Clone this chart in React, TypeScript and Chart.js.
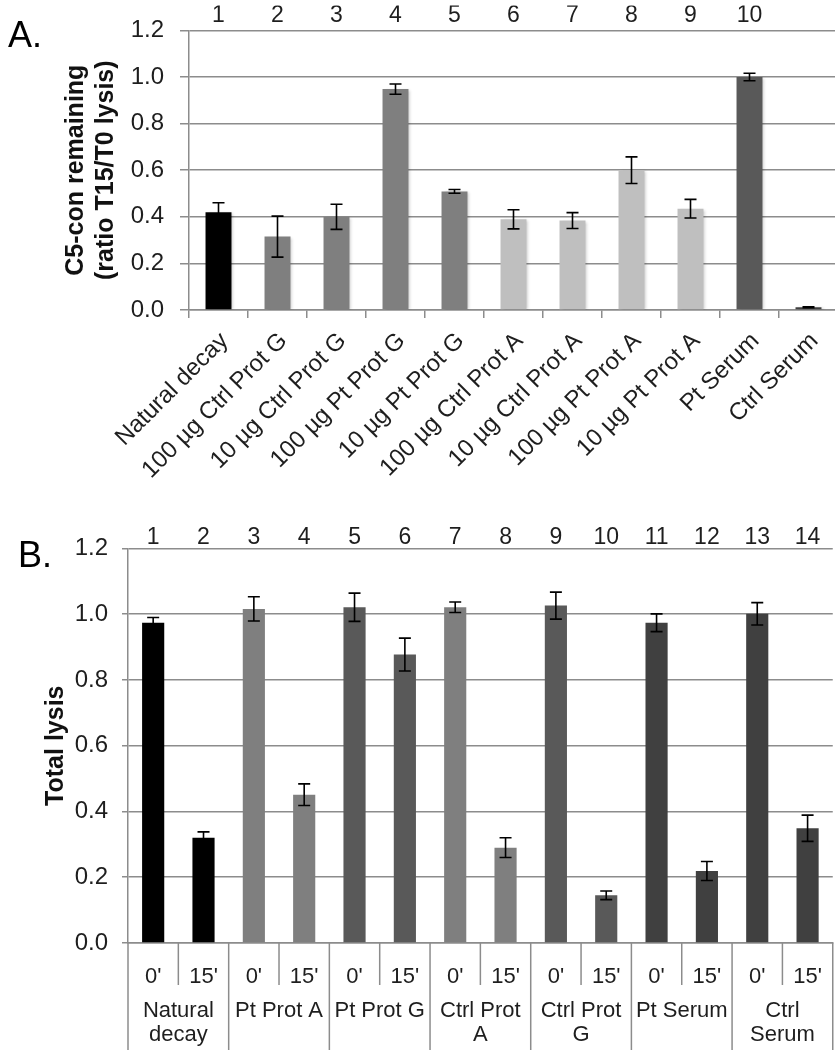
import React, { useEffect, useRef } from 'react';
import { Chart, registerables } from 'chart.js';

Chart.register(...registerables);

const FONT = '"Liberation Sans", Arial, Helvetica, sans-serif';
const GRID = '#8c8c8c';
const TEXT = '#1e1e1e';

// ---------- Panel A data ----------
const categoriesA = [
  'Natural decay',
  '100 µg Ctrl Prot G',
  '10 µg Ctrl Prot G',
  '100 µg Pt Prot G',
  '10 µg Pt Prot G',
  '100 µg Ctrl Prot A',
  '10 µg Ctrl Prot A',
  '100 µg Pt Prot A',
  '10 µg Pt Prot A',
  'Pt Serum',
  'Ctrl Serum',
];
const numbersA = ['1', '2', '3', '4', '5', '6', '7', '8', '9', '10', ''];
const valuesA = [0.42, 0.315, 0.4, 0.948, 0.509, 0.389, 0.384, 0.6, 0.435, 1.0, 0.012];
const errorsA = [0.04, 0.088, 0.054, 0.022, 0.008, 0.041, 0.034, 0.057, 0.04, 0.016, 0.002];
const colorsA = [
  '#000000', '#7f7f7f', '#7f7f7f', '#7f7f7f', '#7f7f7f',
  '#bfbfbf', '#bfbfbf', '#bfbfbf', '#bfbfbf', '#595959', '#404040',
];
const titleA = ['C5-con remaining', '(ratio T15/T0 lysis)'];

// ---------- Panel B data ----------
const categoriesB = ["0'", "15'", "0'", "15'", "0'", "15'", "0'", "15'", "0'", "15'", "0'", "15'", "0'", "15'"];
const numbersB = ['1', '2', '3', '4', '5', '6', '7', '8', '9', '10', '11', '12', '13', '14'];
const groupsB = [
  ['Natural', 'decay'],
  ['Pt Prot A'],
  ['Pt Prot G'],
  ['Ctrl Prot', 'A'],
  ['Ctrl Prot', 'G'],
  ['Pt Serum'],
  ['Ctrl', 'Serum'],
];
const valuesB = [0.974, 0.32, 1.016, 0.451, 1.021, 0.877, 1.021, 0.29, 1.026, 0.145, 0.974, 0.219, 1.001, 0.349];
const errorsB = [0.016, 0.018, 0.037, 0.033, 0.043, 0.05, 0.016, 0.03, 0.041, 0.013, 0.027, 0.029, 0.034, 0.04];
const colorsB = [
  '#000000', '#000000', '#7f7f7f', '#7f7f7f', '#595959', '#595959', '#7f7f7f',
  '#7f7f7f', '#595959', '#595959', '#404040', '#404040', '#404040', '#404040',
];
const titleB = 'Total lysis';

const yTicks = [0, 0.2, 0.4, 0.6, 0.8, 1.0, 1.2];

const shadowPlugin = {
  id: 'barShadow',
  beforeDatasetsDraw(chart: any, _a: any, opts: any) {
    if (!opts || !opts.enabled) return;
    const ctx = chart.ctx;
    ctx.save();
    ctx.shadowColor = 'rgba(0,0,0,0.22)';
    ctx.shadowBlur = 3;
    ctx.shadowOffsetX = 2;
    ctx.shadowOffsetY = 1;
  },
  afterDatasetsDraw(chart: any, _a: any, opts: any) {
    if (!opts || !opts.enabled) return;
    chart.ctx.restore();
  },
};

const errorBarPlugin = {
  id: 'errorBars',
  afterDatasetsDraw(chart: any, _a: any, opts: any) {
    const errs: number[] = opts.errors || [];
    const meta = chart.getDatasetMeta(0);
    const y = chart.scales.y;
    const data = chart.data.datasets[0].data as number[];
    const ctx = chart.ctx;
    const cap = opts.cap || 6;
    ctx.save();
    ctx.strokeStyle = '#000';
    ctx.lineWidth = 1.6;
    meta.data.forEach((bar: any, i: number) => {
      const e = errs[i];
      if (!e) return;
      const v = data[i];
      const x = bar.x;
      const yt = y.getPixelForValue(v + e);
      const yb = y.getPixelForValue(v - e);
      ctx.beginPath();
      ctx.moveTo(x, yt);
      ctx.lineTo(x, yb);
      ctx.moveTo(x - cap, yt);
      ctx.lineTo(x + cap, yt);
      ctx.moveTo(x - cap, yb);
      ctx.lineTo(x + cap, yb);
      ctx.stroke();
    });
    ctx.restore();
  },
};

const tablePlugin = {
  id: 'groupTable',
  afterDraw(chart: any, _a: any, opts: any) {
    if (!opts || !opts.groups) return;
    const { ctx, chartArea } = chart;
    const x = chart.scales.x;
    const n = chart.data.labels.length;
    const step = (x.right - x.left) / n;
    const H = chart.height;
    ctx.save();
    ctx.strokeStyle = GRID;
    ctx.lineWidth = 1.5;
    for (let i = 0; i <= n; i++) {
      const px = Math.min(x.left + i * step, chart.width - 1);
      const long = i % 2 === 0;
      ctx.beginPath();
      ctx.moveTo(px, chartArea.bottom);
      ctx.lineTo(px, long ? H : chartArea.bottom + 42);
      ctx.stroke();
    }
    ctx.fillStyle = TEXT;
    ctx.font = `22px ${FONT}`;
    ctx.textAlign = 'center';
    ctx.textBaseline = 'middle';
    (opts.groups as string[][]).forEach((lines, g) => {
      const cx = x.left + (2 * g + 1) * step;
      lines.forEach((t, k) => {
        ctx.fillText(t, cx, chartArea.bottom + 68 + k * 24);
      });
    });
    ctx.restore();
  },
};

function makeConfig(p: {
  labels: string[];
  numbers: string[];
  values: number[];
  errors: number[];
  colors: string[];
  title: string | string[];
  yWidth: number;
  topH: number;
  xH: number;
  tickLen: number;
  tickPad: number;
  titlePad: number;
  numPad: number;
  rotate: boolean;
  xPad: number;
  xFont: number;
  xOffset: number;
  groups?: string[][];
  shadow: boolean;
}) {
  return {
    type: 'bar' as const,
    data: {
      labels: p.labels,
      datasets: [
        {
          data: p.values,
          backgroundColor: p.colors,
          borderWidth: 0,
          barPercentage: 0.44,
          categoryPercentage: 1,
        },
      ],
    },
    plugins: [shadowPlugin, errorBarPlugin, tablePlugin],
    options: {
      responsive: false,
      animation: false as const,
      devicePixelRatio: 1,
      layout: { padding: 0 },
      plugins: {
        legend: { display: false },
        tooltip: { enabled: false },
        errorBars: { errors: p.errors, cap: 6 },
        groupTable: { groups: p.groups },
        barShadow: { enabled: p.shadow },
      },
      scales: {
        x: {
          type: 'category',
          position: 'bottom',
          grid: {
            display: p.rotate,
            drawOnChartArea: false,
            drawTicks: true,
            tickLength: 8,
            color: GRID,
            lineWidth: 1.5,
            offset: true,
          },
          border: { display: true, color: GRID, width: 1.5 },
          ticks: {
            autoSkip: false,
            minRotation: p.rotate ? 45 : 0,
            maxRotation: p.rotate ? 45 : 0,
            padding: p.xPad,
            labelOffset: p.xOffset,
            color: TEXT,
            font: { family: FONT, size: p.xFont },
          },
          afterFit: (s: any) => {
            s.height = p.xH;
          },
        },
        xTop: {
          type: 'category',
          position: 'top',
          labels: p.numbers,
          offset: true,
          grid: { display: false, drawTicks: false },
          border: { display: false },
          ticks: {
            autoSkip: false,
            maxRotation: 0,
            minRotation: 0,
            padding: p.numPad,
            color: TEXT,
            font: { family: FONT, size: 23, lineHeight: 1 },
          },
          afterFit: (s: any) => {
            s.height = p.topH;
          },
        },
        y: {
          min: 0,
          max: 1.2,
          afterBuildTicks: (s: any) => {
            s.ticks = yTicks.map((v) => ({ value: v }));
          },
          grid: {
            color: GRID,
            lineWidth: 1.5,
            drawTicks: true,
            tickLength: p.tickLen,
          },
          border: { display: true, color: GRID, width: 1.5 },
          ticks: {
            padding: p.tickPad,
            color: TEXT,
            font: { family: FONT, size: 24 },
            callback: (v: any) => Number(v).toFixed(1),
          },
          title: {
            display: true,
            text: p.title,
            color: '#111',
            font: { family: FONT, size: 25, weight: 'bold', lineHeight: 1.2 },
            padding: { top: p.titlePad, bottom: 0 },
          },
          afterFit: (s: any) => {
            s.width = p.yWidth;
          },
        },
      },
    },
  };
}

function ChartCanvas(props: { config: any; width: number; height: number; top: number }) {
  const ref = useRef<HTMLCanvasElement | null>(null);
  useEffect(() => {
    if (!ref.current) return;
    const chart = new Chart(ref.current, props.config);
    return () => chart.destroy();
  }, []);
  return (
    <canvas
      ref={ref}
      width={props.width}
      height={props.height}
      style={{ position: 'absolute', left: 0, top: props.top, width: props.width, height: props.height }}
    />
  );
}

const configA = makeConfig({
  labels: categoriesA,
  numbers: numbersA,
  values: valuesA,
  errors: errorsA,
  colors: colorsA,
  title: titleA,
  yWidth: 189,
  topH: 25,
  xH: 515 - 310,
  tickLen: 9,
  tickPad: 16,
  titlePad: 61,
  numPad: 3,
  rotate: true,
  xPad: 9,
  xFont: 24,
  xOffset: 6,
  shadow: true,
});

const configB = makeConfig({
  labels: categoriesB,
  numbers: numbersB,
  values: valuesB,
  errors: errorsB,
  colors: colorsB,
  title: titleB,
  yWidth: 128,
  topH: 25,
  xH: 530 - 423,
  tickLen: 6,
  tickPad: 14,
  titlePad: 41,
  numPad: -1,
  rotate: false,
  xPad: 13,
  xFont: 22,
  xOffset: 0,
  groups: groupsB,
  shadow: false,
});

const panelLabel: React.CSSProperties = {
  position: 'absolute',
  fontFamily: FONT,
  fontSize: 36,
  lineHeight: 1,
  color: '#000',
};

export default function App() {
  return (
    <div
      style={{
        position: 'absolute',
        left: 0,
        top: 0,
        width: 835,
        height: 1050,
        overflow: 'hidden',
        background: '#fff',
      }}
    >
      <ChartCanvas config={configA} width={838} height={515} top={0} />
      <ChartCanvas config={configB} width={835} height={530} top={520} />
      <div style={{ ...panelLabel, left: 8, top: 17 }}>A.</div>
      <div style={{ ...panelLabel, left: 18, top: 537 }}>B.</div>
    </div>
  );
}
